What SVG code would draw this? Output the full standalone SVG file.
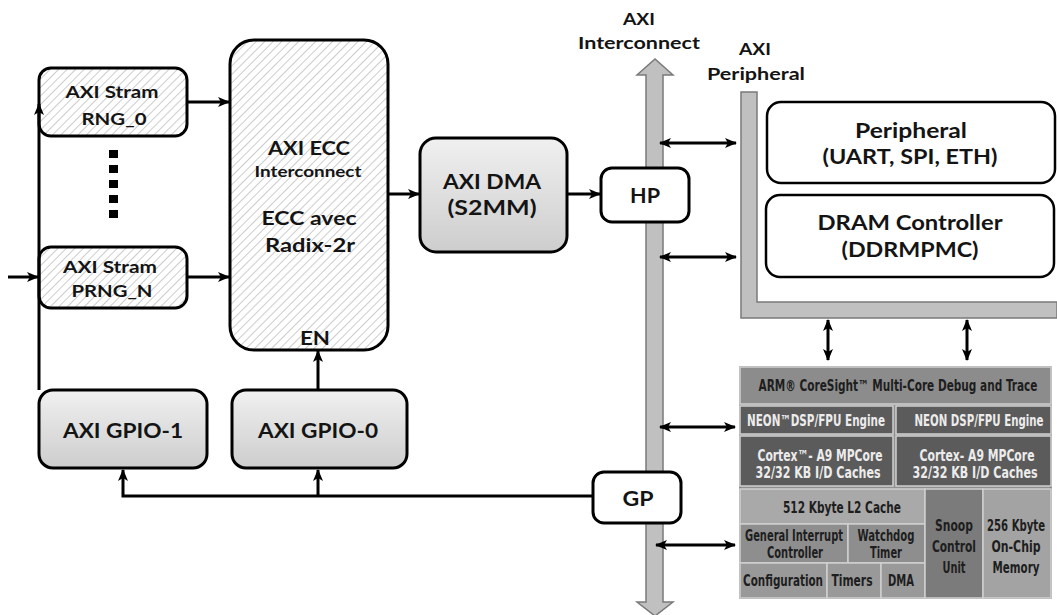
<svg xmlns="http://www.w3.org/2000/svg" width="1057" height="615" viewBox="0 0 1057 615">
<style>
.t{font-family:Lato,"Open Sans","Liberation Sans",sans-serif;font-weight:bold;fill:#141414;text-anchor:middle}
.box{stroke:#000;stroke-width:3}
.ln{stroke:#000;stroke-width:3;fill:none}
.c{font-family:"DejaVu Sans Condensed","DejaVu Sans",sans-serif;font-weight:bold;font-size:15px;text-anchor:middle}
.dk{fill:#1e1e1e}
.lt{fill:#ececec}
.cell{stroke:#d0d0d0;stroke-width:1.5}
</style>
<defs>
<pattern id="hatch" width="6" height="6" patternUnits="userSpaceOnUse" patternTransform="rotate(45)">
<rect width="6" height="6" fill="#fff"/>
<line x1="0" y1="0" x2="0" y2="6" stroke="#9a9a9a" stroke-width="1"/>
</pattern>
<linearGradient id="grad" x1="0" y1="0" x2="0" y2="1">
<stop offset="0" stop-color="#f0f0f0"/>
<stop offset="1" stop-color="#cdcdcd"/>
</linearGradient>
<marker id="ah" viewBox="0 0 12 10" refX="11" refY="5" markerWidth="12" markerHeight="10" markerUnits="userSpaceOnUse" orient="auto-start-reverse">
<path d="M0,0 L12,5 L0,10 L3,5 z" fill="#000"/>
</marker>
</defs>

<g id="bus">
<polygon points="646,75 637,75 655,59 673,75 663,75 663,602 673,602 655,616 637,602 646,602" fill="#c0c0c0" stroke="#7a7a7a" stroke-width="1.5"/>
<text class="t" x="639" y="25" font-size="17" textLength="32" lengthAdjust="spacingAndGlyphs">AXI</text>
<text class="t" x="639" y="49" font-size="17" textLength="122" lengthAdjust="spacingAndGlyphs">Interconnect</text>
</g>

<g id="axi-peripheral">
<polygon points="741,92 757,92 757,302 1057,302 1057,318 741,318" fill="#c0c0c0" stroke="#7a7a7a" stroke-width="1.5"/>
<text class="t" x="755" y="55" font-size="17" textLength="32" lengthAdjust="spacingAndGlyphs">AXI</text>
<text class="t" x="756" y="80" font-size="17" textLength="98" lengthAdjust="spacingAndGlyphs">Peripheral</text>
</g>

<g id="rng0">
<rect class="box" x="39" y="68" width="148" height="68" rx="12" fill="url(#hatch)"/>
<text class="t" x="112" y="98" font-size="17" textLength="93" lengthAdjust="spacingAndGlyphs">AXI Stram</text>
<text class="t" x="114" y="125" font-size="17" textLength="65" lengthAdjust="spacingAndGlyphs">RNG_0</text>
</g>

<g id="dots" fill="#000">
<rect x="109" y="150" width="9" height="8"/>
<rect x="109" y="165" width="9" height="8"/>
<rect x="109" y="180" width="9" height="8"/>
<rect x="109" y="195" width="9" height="8"/>
<rect x="109" y="210" width="9" height="8"/>
</g>

<g id="prngn">
<rect class="box" x="39" y="247" width="148" height="61" rx="12" fill="url(#hatch)"/>
<text class="t" x="110" y="273" font-size="17" textLength="94" lengthAdjust="spacingAndGlyphs">AXI Stram</text>
<text class="t" x="112" y="297" font-size="17" textLength="81" lengthAdjust="spacingAndGlyphs">PRNG_N</text>
</g>

<g id="ecc">
<rect class="box" x="230" y="40" width="158" height="310" rx="24" fill="url(#hatch)"/>
<text class="t" x="309" y="155" font-size="19" textLength="82" lengthAdjust="spacingAndGlyphs">AXI ECC</text>
<text class="t" x="308" y="177" font-size="16" textLength="107" lengthAdjust="spacingAndGlyphs">Interconnect</text>
<text class="t" x="309" y="225" font-size="19" textLength="95" lengthAdjust="spacingAndGlyphs">ECC avec</text>
<text class="t" x="310" y="252" font-size="19" textLength="90" lengthAdjust="spacingAndGlyphs">Radix-2r</text>
<text class="t" x="315" y="345" font-size="18" textLength="30" lengthAdjust="spacingAndGlyphs">EN</text>
</g>

<g id="dma">
<rect class="box" x="420" y="138" width="147" height="114" rx="16" fill="url(#grad)"/>
<text class="t" x="492" y="189" font-size="20" textLength="98" lengthAdjust="spacingAndGlyphs">AXI DMA</text>
<text class="t" x="492" y="215" font-size="20" textLength="89" lengthAdjust="spacingAndGlyphs">(S2MM)</text>
</g>

<g id="hp">
<rect class="box" x="601" y="168" width="88" height="54" rx="11" fill="#fff"/>
<text class="t" x="645" y="203" font-size="20" textLength="30" lengthAdjust="spacingAndGlyphs">HP</text>
</g>

<g id="gp">
<rect class="box" x="593" y="472" width="88" height="51" rx="11" fill="#fff"/>
<text class="t" x="638" y="506" font-size="20" textLength="31" lengthAdjust="spacingAndGlyphs">GP</text>
</g>

<g id="gpio1">
<rect class="box" x="39" y="390" width="168" height="78" rx="14" fill="url(#grad)"/>
<text class="t" x="123" y="438" font-size="20" textLength="120" lengthAdjust="spacingAndGlyphs">AXI GPIO-1</text>
</g>

<g id="gpio0">
<rect class="box" x="232" y="390" width="175" height="78" rx="14" fill="url(#grad)"/>
<text class="t" x="318" y="438" font-size="20" textLength="120" lengthAdjust="spacingAndGlyphs">AXI GPIO-0</text>
</g>

<g id="peripheral">
<rect x="767" y="102" width="288" height="81" rx="14" fill="#fff" stroke="#000" stroke-width="2.5"/>
<text class="t" x="911" y="138" font-size="21" textLength="112" lengthAdjust="spacingAndGlyphs">Peripheral</text>
<text class="t" x="910" y="164" font-size="21" textLength="175" lengthAdjust="spacingAndGlyphs">(UART, SPI, ETH)</text>
</g>

<g id="dram">
<rect x="766" y="195" width="288" height="82" rx="14" fill="#fff" stroke="#000" stroke-width="2.5"/>
<text class="t" x="910" y="230" font-size="21" textLength="185" lengthAdjust="spacingAndGlyphs">DRAM Controller</text>
<text class="t" x="910" y="257" font-size="21" textLength="137" lengthAdjust="spacingAndGlyphs">(DDRMPMC)</text>
</g>

<g id="arm">
<rect x="740" y="367" width="311" height="231" fill="#8f8f8f" stroke="#777" stroke-width="1.5"/>
<rect class="cell" x="740" y="367" width="311" height="37" fill="#8c8c8c"/>
<text class="c dk" x="898" y="391" textLength="279" lengthAdjust="spacingAndGlyphs">ARM® CoreSight™ Multi-Core Debug and Trace</text>
<rect class="cell" x="740" y="406" width="153" height="28" fill="#5b5b5b"/>
<rect class="cell" x="896" y="406" width="155" height="28" fill="#5b5b5b"/>
<text class="c lt" x="816" y="426" textLength="138" lengthAdjust="spacingAndGlyphs">NEON™DSP/FPU Engine</text>
<text class="c lt" x="979" y="426" textLength="129" lengthAdjust="spacingAndGlyphs">NEON DSP/FPU Engine</text>
<rect class="cell" x="740" y="436" width="153" height="50" fill="#5b5b5b"/>
<rect class="cell" x="896" y="436" width="155" height="50" fill="#5b5b5b"/>
<text class="c lt" x="820" y="461" textLength="125" lengthAdjust="spacingAndGlyphs">Cortex™- A9 MPCore</text>
<text class="c lt" x="818" y="478" textLength="125" lengthAdjust="spacingAndGlyphs">32/32 KB I/D Caches</text>
<text class="c lt" x="977" y="461" textLength="115" lengthAdjust="spacingAndGlyphs">Cortex- A9 MPCore</text>
<text class="c lt" x="975" y="478" textLength="125" lengthAdjust="spacingAndGlyphs">32/32 KB I/D Caches</text>
<rect class="cell" x="740" y="489" width="185" height="35" fill="#a9a9a9"/>
<text class="c dk" x="842" y="513" textLength="118" lengthAdjust="spacingAndGlyphs">512 Kbyte L2 Cache</text>
<rect class="cell" x="740" y="524" width="108" height="39" fill="#8e8e8e"/>
<text class="c dk" x="794" y="541" textLength="98" lengthAdjust="spacingAndGlyphs">General Interrupt</text>
<text class="c dk" x="795" y="558" textLength="56" lengthAdjust="spacingAndGlyphs">Controller</text>
<rect class="cell" x="848" y="524" width="77" height="39" fill="#8e8e8e"/>
<text class="c dk" x="886" y="541" textLength="57" lengthAdjust="spacingAndGlyphs">Watchdog</text>
<text class="c dk" x="886" y="558" textLength="32" lengthAdjust="spacingAndGlyphs">Timer</text>
<rect class="cell" x="740" y="563" width="87" height="35" fill="#999"/>
<text class="c dk" x="783" y="586" textLength="80" lengthAdjust="spacingAndGlyphs">Configuration</text>
<rect class="cell" x="827" y="563" width="54" height="35" fill="#999"/>
<text class="c dk" x="852" y="586" textLength="41" lengthAdjust="spacingAndGlyphs">Timers</text>
<rect class="cell" x="881" y="563" width="44" height="35" fill="#999"/>
<text class="c dk" x="901" y="586" textLength="26" lengthAdjust="spacingAndGlyphs">DMA</text>
<rect class="cell" x="925" y="489" width="58" height="109" fill="#7b7b7b"/>
<text class="c dk" x="954" y="531" textLength="38" lengthAdjust="spacingAndGlyphs">Snoop</text>
<text class="c dk" x="954" y="552" textLength="44" lengthAdjust="spacingAndGlyphs">Control</text>
<text class="c dk" x="954" y="573" textLength="23" lengthAdjust="spacingAndGlyphs">Unit</text>
<rect class="cell" x="983" y="489" width="68" height="109" fill="#a3a3a3"/>
<text class="c dk" x="1016" y="531" textLength="58" lengthAdjust="spacingAndGlyphs">256 Kbyte</text>
<text class="c dk" x="1016" y="552" textLength="49" lengthAdjust="spacingAndGlyphs">On-Chip</text>
<text class="c dk" x="1016" y="573" textLength="47" lengthAdjust="spacingAndGlyphs">Memory</text>
</g>

<g id="connectors">
<line class="ln" x1="8" y1="277" x2="38" y2="277" marker-end="url(#ah)"/>
<line class="ln" x1="39" y1="390" x2="39" y2="104" marker-end="url(#ah)"/>
<line class="ln" x1="187" y1="102" x2="229" y2="102" marker-end="url(#ah)"/>
<line class="ln" x1="187" y1="277" x2="229" y2="277" marker-end="url(#ah)"/>
<line class="ln" x1="388" y1="194" x2="419" y2="194" marker-end="url(#ah)"/>
<line class="ln" x1="567" y1="194" x2="600" y2="194" marker-end="url(#ah)"/>
<line class="ln" x1="318" y1="390" x2="318" y2="351" marker-end="url(#ah)"/>
<polyline class="ln" points="593,496 123,496 123,470" marker-end="url(#ah)"/>
<line class="ln" x1="318" y1="496" x2="318" y2="470" marker-end="url(#ah)"/>
<line class="ln" x1="660" y1="143" x2="736" y2="143" marker-start="url(#ah)" marker-end="url(#ah)"/>
<line class="ln" x1="660" y1="257" x2="736" y2="257" marker-start="url(#ah)" marker-end="url(#ah)"/>
<line class="ln" x1="660" y1="427" x2="735" y2="427" marker-start="url(#ah)" marker-end="url(#ah)"/>
<line class="ln" x1="656" y1="545" x2="735" y2="545" marker-start="url(#ah)" marker-end="url(#ah)"/>
<line class="ln" x1="828" y1="320" x2="828" y2="360" marker-start="url(#ah)" marker-end="url(#ah)"/>
<line class="ln" x1="967" y1="320" x2="967" y2="360" marker-start="url(#ah)" marker-end="url(#ah)"/>
</g>
</svg>
